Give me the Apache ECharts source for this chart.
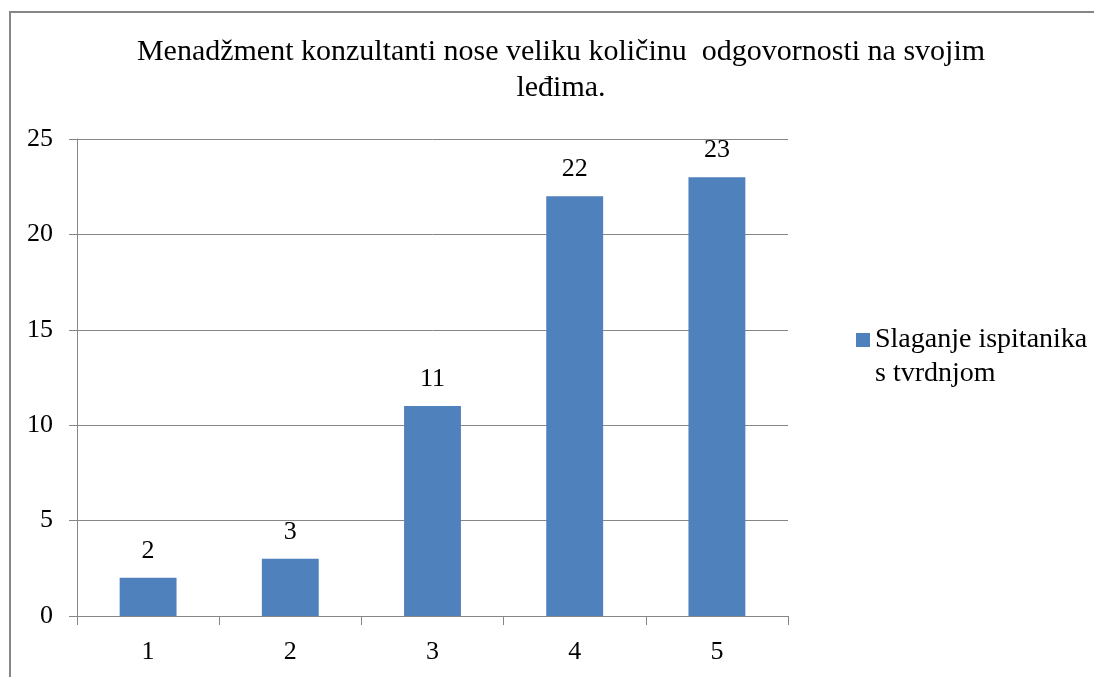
<!DOCTYPE html>
<html>
<head>
<meta charset="utf-8">
<style>html,body{margin:0;padding:0;background:#fff;}#c{width:1094px;height:677px;}</style>
<script src="https://cdn.jsdelivr.net/npm/echarts@6/dist/echarts.min.js"></script>
</head>
<body>
<div id="c"></div>
<script>
var titleText = 'Menadžment konzultanti nose veliku količinu  odgovornosti na svojim\nleđima.';
var categories = ['1', '2', '3', '4', '5'];
var seriesName = 'Slaganje ispitanika\ns tvrdnjom';
var values = [2, 3, 11, 22, 23];
var yTicks = { min: 0, max: 25, interval: 5 };

var FONT = '"Liberation Serif", "Times New Roman", serif';
var chart = echarts.init(document.getElementById('c'), null, { renderer: 'canvas' });
chart.setOption({
  backgroundColor: '#fff',
  animation: false,
  graphic: [{
    type: 'rect', z: 100, silent: true,
    shape: { x: 10, y: 12, width: 3000, height: 3000 },
    style: { fill: 'none', stroke: '#868686', lineWidth: 2 }
  }],
  title: {
    text: titleText,
    left: 556, top: 29, textAlign: 'center',
    textStyle: { fontFamily: FONT, fontWeight: 'normal', fontSize: 30, color: '#000', lineHeight: 36 }
  },
  legend: {
    left: 856, top: 323, padding: 0, orient: 'vertical',
    itemWidth: 14, itemHeight: 48,
    icon: 'path://M0,0L14,0L14,14L0,14Z M0,48',
    textStyle: { fontFamily: FONT, fontSize: 28, color: '#000', lineHeight: 34 },
    data: [seriesName]
  },
  grid: { left: 77, right: 306, top: 139, bottom: 61, containLabel: false },
  xAxis: {
    type: 'category', data: categories,
    axisLine: { lineStyle: { color: '#868686', width: 1 } },
    axisTick: { show: true, length: 9, lineStyle: { color: '#868686' } },
    axisLabel: { fontFamily: FONT, fontSize: 26, color: '#000', margin: 23 },
    splitLine: { show: false }
  },
  yAxis: {
    type: 'value', min: yTicks.min, max: yTicks.max, interval: yTicks.interval,
    axisLine: { show: true, lineStyle: { color: '#868686', width: 1 } },
    axisTick: { show: true, length: 8, lineStyle: { color: '#868686' } },
    axisLabel: { fontFamily: FONT, fontSize: 26, color: '#000', margin: 24 },
    splitLine: { show: true, lineStyle: { color: '#868686', width: 1 } }
  },
  series: [{
    name: seriesName, type: 'bar', data: values,
    barWidth: '40%',
    itemStyle: { color: '#4F81BD' },
    label: { show: true, position: 'top', distance: 14, fontFamily: FONT, fontSize: 26, color: '#000' }
  }]
});
</script>
</body>
</html>
